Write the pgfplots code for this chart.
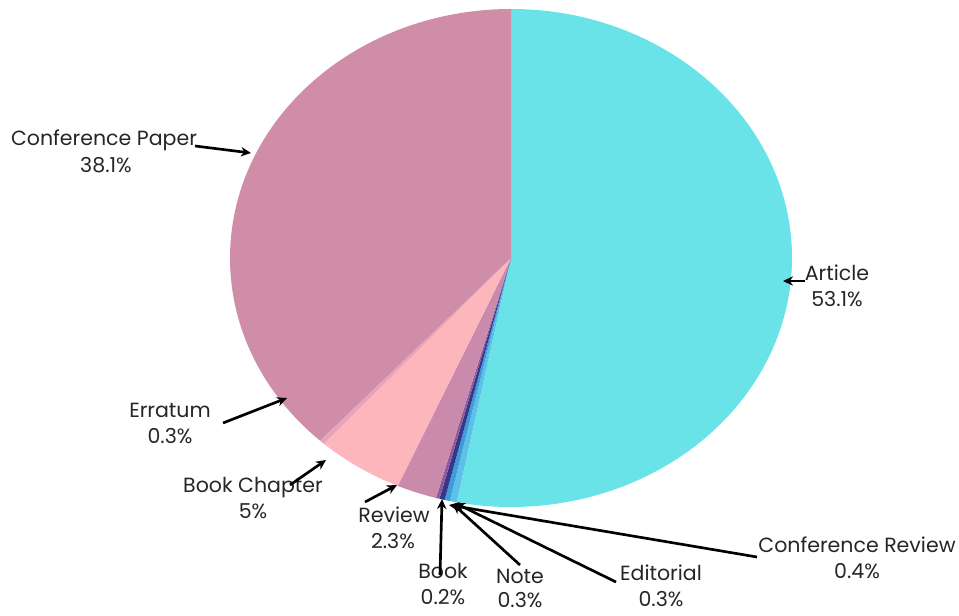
\documentclass[border=0pt]{standalone}
\usepackage{pgfplots}
\pgfplotsset{compat=1.18}
\usepackage{pgfplotstable}
\usetikzlibrary{arrows.meta}
\usepackage{fontspec}
\setmainfont{Poppins}

\definecolor{cArt}{HTML}{6AE3E8}
\definecolor{cCR}{HTML}{5CC0E8}
\definecolor{cEd}{HTML}{3E9CD8}
\definecolor{cNote}{HTML}{34378A}
\definecolor{cBook}{HTML}{8A5C9C}
\definecolor{cRev}{HTML}{C98AAB}
\definecolor{cBC}{HTML}{FDB6BC}
\definecolor{cErr}{HTML}{E8A5B8}
\definecolor{cCP}{HTML}{CF8DA8}

% share of each document type, clockwise from the top
\pgfplotstableread{
label value color
Article 53.1 cArt
ConfReview 0.4 cCR
Editorial 0.3 cEd
Note 0.3 cNote
Book 0.2 cBook
Review 2.3 cRev
BookChapter 5 cBC
Erratum 0.3 cErr
ConfPaper 38.1 cCP
}\pietable

\begin{document}
\begin{tikzpicture}
\begin{axis}[
  x=0.75pt, y=0.75pt,
  xmin=0, xmax=959, ymin=0, ymax=615,
  hide axis, clip=false,
]
\path (axis cs:0,0) rectangle (axis cs:959,615);

% slices (ellipse centre 511,357; radii 281 x 249 px)
\def\cum{0}
\pgfplotsforeachungrouped \i in {0,...,8}{
  \pgfplotstablegetelem{\i}{value}\of\pietable \let\v=\pgfplotsretval
  \pgfplotstablegetelem{\i}{color}\of\pietable \let\c=\pgfplotsretval
  \pgfmathsetmacro\a{90-3.6*\cum}
  \pgfmathsetmacro\b{90-3.6*(\cum+\v)}
  \edef\temp{\noexpand\fill[\c] (axis cs:511,357) -- ++(\a:210.75pt and 186.75pt)
    arc[start angle=\a, end angle=\b, x radius=210.75pt, y radius=186.75pt] -- cycle;}
  \temp
  \pgfmathsetmacro\cum{\cum+\v}
}

% labels
\tikzset{lbl/.style={anchor=base, inner sep=0pt, font=\fontsize{15.4}{18}\selectfont, text=black!85}}
\node[lbl] at (axis cs:104,469) {Conference Paper};
\node[lbl] at (axis cs:106,442) {38.1\%};
\node[lbl] at (axis cs:837,335) {Article};
\node[lbl] at (axis cs:837,309) {53.1\%};
\node[lbl] at (axis cs:170,198) {Erratum};
\node[lbl] at (axis cs:170,172) {0.3\%};
\node[lbl] at (axis cs:253,123) {Book Chapter};
\node[lbl] at (axis cs:253,97) {5\%};
\node[lbl] at (axis cs:394,93) {Review};
\node[lbl] at (axis cs:393,67) {2.3\%};
\node[lbl] at (axis cs:443,37) {Book};
\node[lbl] at (axis cs:443,11) {0.2\%};
\node[lbl] at (axis cs:520,32) {Note};
\node[lbl] at (axis cs:520,8) {0.3\%};
\node[lbl] at (axis cs:661,35) {Editorial};
\node[lbl] at (axis cs:661,9) {0.3\%};
\node[lbl] at (axis cs:857,63) {Conference Review};
\node[lbl] at (axis cs:857,37) {0.4\%};

% leader arrows
\tikzset{lead/.style={line width=2pt, black, -{Stealth[length=7.5pt, width=7pt]}}}
\draw[lead] (axis cs:195,469) -- (axis cs:251,462);
\draw[lead] (axis cs:805,334) -- (axis cs:783,334);
\draw[lead] (axis cs:223,192) -- (axis cs:287,217);
\draw[lead] (axis cs:290,130) -- (axis cs:326,155);
\draw[lead] (axis cs:365,113) -- (axis cs:397,130);
\draw[lead] (axis cs:440,40) -- (axis cs:442,116);
\draw[lead] (axis cs:520,50) -- (axis cs:453,111);
\draw[lead] (axis cs:616,33) -- (axis cs:455,112);
\draw[lead] (axis cs:757,58) -- (axis cs:449,110);
\end{axis}
\end{tikzpicture}
\end{document}
